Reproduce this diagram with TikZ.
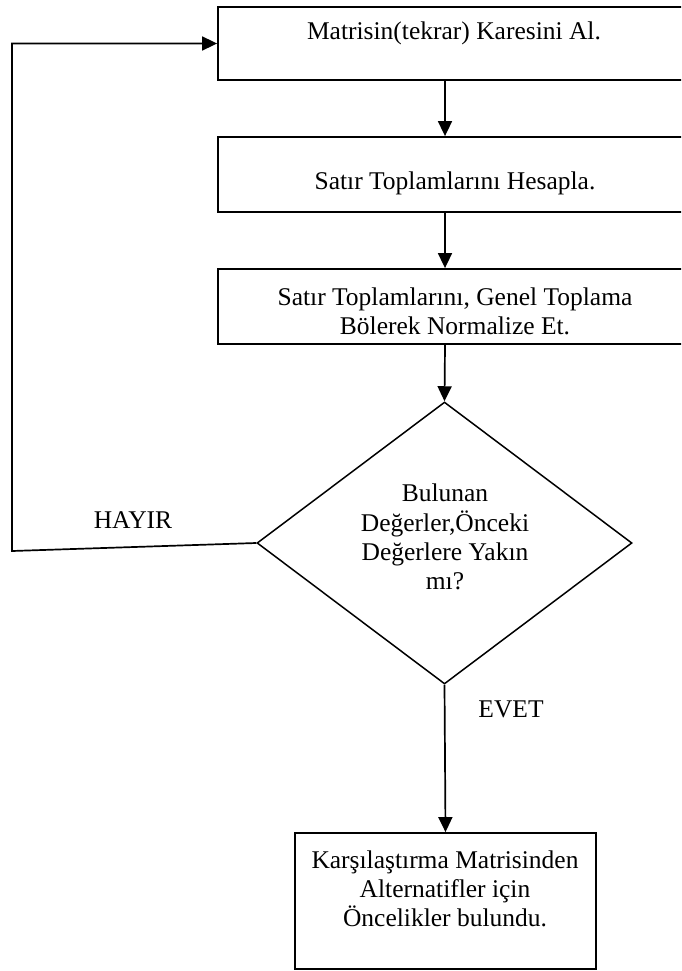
\documentclass[tikz,border=0pt]{standalone}
\usepackage{fontspec}
\setmainfont{Liberation Serif}
\usetikzlibrary{arrows.meta,shapes.geometric}
\begin{document}
\begin{tikzpicture}[x=1pt,y=-1pt,
  stepbox/.style={draw, line width=1.8pt, rectangle, inner sep=0pt},
  decbox/.style={draw, line width=1.5pt, diamond, inner sep=0pt},
  txt/.style={inner sep=0pt, align=center, font=\fontsize{25.5}{29.3}\selectfont},
  flow/.style={line width=1.7pt, -{Triangle[length=15pt,width=14pt]}}]
\useasboundingbox (0,0) rectangle (681,971);
\clip (0,0) rectangle (681,971);
% process boxes
\node[stepbox, minimum width=477pt, minimum height=73pt] (b1) at (456.5,43.5) {};
\node[stepbox, minimum width=477pt, minimum height=75pt] (b2) at (456.5,174.5) {};
\node[stepbox, minimum width=477pt, minimum height=75pt] (b3) at (456.5,306.5) {};
\node[decbox, minimum width=375pt, minimum height=282pt] (dec) at (444.5,543) {};
\node[stepbox, minimum width=301pt, minimum height=136pt] (b4) at (445.5,901) {};
% box texts
\node[txt] (t1) at (454,33) {Matrisin(tekrar) Karesini Al.};
\node[txt] (t2) at (455,183) {Satır Toplamlarını Hesapla.};
\node[txt] (t3) at (455,311) {Satır Toplamlarını, Genel Toplama\\Bölerek Normalize Et.};
\node[txt] (t4) at (445,537) {Bulunan\\Değerler,Önceki\\Değerlere Yakın\\mı?};
\node[txt] (t5) at (445,889) {Karşılaştırma Matrisinden\\Alternatifler için\\Öncelikler bulundu.};
% branch labels
\node[txt] (no) at (133,520) {HAYIR};
\node[txt] (yes) at (511,709) {EVET};
% connectors
\draw[flow] (b1.south -| 445,0) -- (b2.north -| 445,0);
\draw[flow] (b2.south -| 445,0) -- (b3.north -| 445,0);
\draw[flow] (b3.south -| 445,0) -- (dec.north);
\draw[flow] (dec.south) -- (b4.north);
\coordinate (lp1) at (12,551);
\coordinate (lp2) at (12,43.5);
\draw[flow] (dec.west) -- (lp1) -- (lp2) -- (b1.west);
\end{tikzpicture}
\end{document}
